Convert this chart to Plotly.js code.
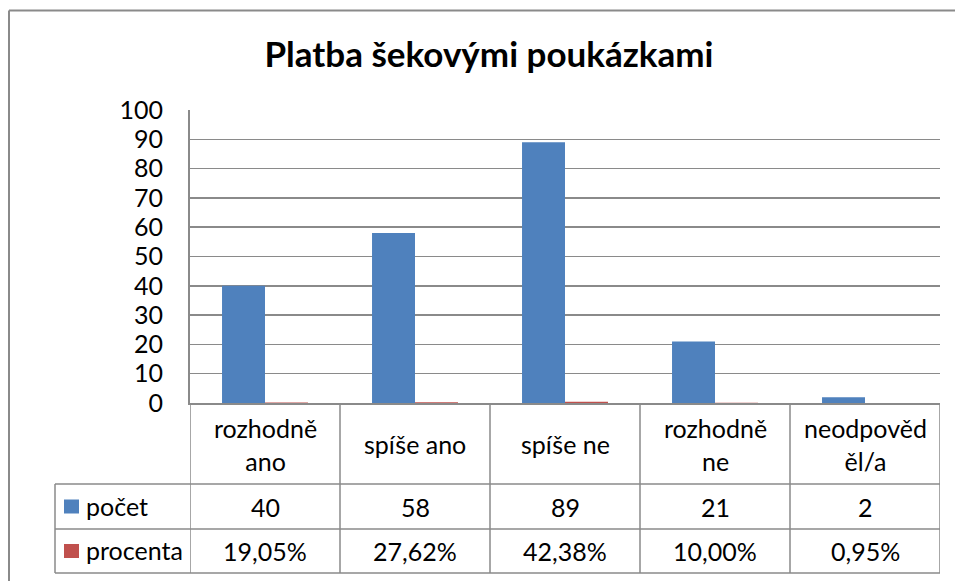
<!DOCTYPE html>
<html>
<head>
<meta charset="utf-8">
<script src="https://cdn.plot.ly/plotly-3.0.1.min.js"></script>
<style>html,body{margin:0;padding:0;background:#fff;}#chart{width:955px;height:581px;}</style>
</head>
<body>
<div id="chart"></div>
<script>
const chartTitle = "Platba šekovými poukázkami";
const categories = ["rozhodně ano", "spíše ano", "spíše ne", "rozhodně ne", "neodpověděl/a"];
const categoryLabels = ["rozhodně<br>ano", "spíše ano", "spíše ne", "rozhodně<br>ne", "neodpověd<br>ěl/a"];
const seriesNames = ["počet", "procenta"];
const pocet = [40, 58, 89, 21, 2];
const procenta = [0.1905, 0.2762, 0.4238, 0.1000, 0.0095];
const procentaLabels = ["19,05%", "27,62%", "42,38%", "10,00%", "0,95%"];
const yTicks = [0, 10, 20, 30, 40, 50, 60, 70, 80, 90, 100];

const colors = ["#4F81BD", "#C0504D"];
const FONT = "Lato, 'Open Sans', sans-serif";
const W = 955, H = 581;
const L = 190, R = 940, T = 110, B = 403;
const px = p => (p - L) / (R - L);
const py = p => (B - p) / (B - T);
const grid = "#8a8a8a";
const FS = 25;

const idx = categories.map((c, i) => i);

const traces = [
  {type: "bar", name: seriesNames[0], x: idx, y: pocet, marker: {color: colors[0]}, hoverinfo: "skip"},
  {type: "bar", name: seriesNames[1], x: idx, y: procenta, marker: {color: colors[1]}, hoverinfo: "skip"}
];

const shapes = [];
const annotations = [];
// outer border
shapes.push({type: "line", xref: "paper", yref: "paper", x0: px(9), x1: px(9), y0: py(10.5), y1: py(620), line: {color: grid, width: 2}});
shapes.push({type: "line", xref: "paper", yref: "paper", x0: px(9), x1: px(1000), y0: py(10.5), y1: py(10.5), line: {color: grid, width: 2}});
// table vertical lines at category boundaries
for (let i = 0; i <= categories.length; i++) {
  shapes.push({type: "line", xref: "x", yref: "paper", x0: i - 0.5, x1: i - 0.5, y0: 0, y1: py(573), line: {color: grid, width: 1.5}});
}
// table horizontal lines
[484, 529, 573].forEach(r => {
  shapes.push({type: "line", xref: "paper", yref: "paper", x0: px(55), x1: 1, y0: py(r), y1: py(r), line: {color: grid, width: 1.5}});
});
shapes.push({type: "line", xref: "paper", yref: "paper", x0: px(55), x1: px(55), y0: py(484), y1: py(573), line: {color: grid, width: 1.5}});

// header labels and values
categoryLabels.forEach((lab, i) => {
  annotations.push({xref: "x", yref: "paper", x: i, y: py(444), text: lab, showarrow: false,
    font: {family: FONT, size: FS, color: "#000"}, xanchor: "center", yanchor: "middle", align: "center"});
  annotations.push({xref: "x", yref: "paper", x: i, y: py(506.5), text: String(pocet[i]), showarrow: false,
    font: {family: FONT, size: FS, color: "#000"}, xanchor: "center", yanchor: "middle"});
  annotations.push({xref: "x", yref: "paper", x: i, y: py(551), text: procentaLabels[i], showarrow: false,
    font: {family: FONT, size: FS, color: "#000"}, xanchor: "center", yanchor: "middle"});
});
// legend keys in table
[506.5, 551].forEach((rc, k) => {
  shapes.push({type: "rect", xref: "paper", yref: "paper", x0: px(64), x1: px(79), y0: py(rc - 7), y1: py(rc + 7), fillcolor: colors[k], line: {width: 0}});
  annotations.push({xref: "paper", yref: "paper", x: px(84), y: py(rc - 1), text: seriesNames[k], showarrow: false,
    font: {family: FONT, size: FS, color: "#000"}, xanchor: "left", yanchor: "middle"});
});

const layout = {
  width: W, height: H,
  margin: {l: L, r: W - R, t: T, b: H - B, pad: 0},
  paper_bgcolor: "#fff", plot_bgcolor: "#fff",
  showlegend: false,
  barmode: "group", bargap: 0.427, bargroupgap: 0,
  title: {text: "<b>" + chartTitle + "</b>", x: 489 / W, xref: "container", xanchor: "center", y: 1 - 55 / H, yref: "container", yanchor: "middle",
    font: {family: FONT, size: 35, color: "#000"}},
  xaxis: {range: [-0.5, categories.length - 0.5], showticklabels: false, showgrid: false, zeroline: false,
    showline: true, linecolor: grid, linewidth: 2, ticks: "", fixedrange: true},
  yaxis: {range: [0, 100], tickvals: yTicks, ticktext: yTicks.map(String), showgrid: true, gridcolor: grid, gridwidth: 1.5,
    zeroline: false, showline: true, linecolor: grid, linewidth: 2, ticks: "", ticklabelstandoff: 20,
    tickfont: {family: FONT, size: FS, color: "#000"}, fixedrange: true},
  shapes: shapes,
  annotations: annotations
};

Plotly.newPlot("chart", traces, layout, {staticPlot: true, displayModeBar: false});
</script>
</body>
</html>
